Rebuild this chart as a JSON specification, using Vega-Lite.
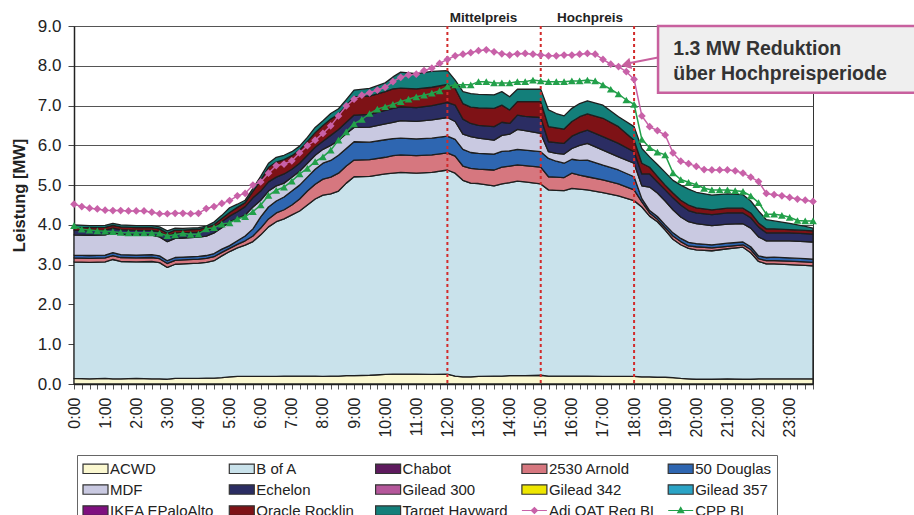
{
  "$schema": "https://vega.github.io/schema/vega-lite/v6.json",
  "width": 739,
  "height": 358,
  "autosize": {"type": "none"},
  "padding": {"left": 74, "top": 26, "right": 101, "bottom": 131},
  "background": "white",
  "config": {
    "font": "Liberation Sans",
    "view": {"stroke": "#333", "strokeWidth": 1},
    "axisX": {"labelAngle": -90, "labelAlign": "right", "labelBaseline": "middle", "labelFontSize": 16, "labelColor": "#222",
      "labelPadding": 8, "labelOverlap": false, "labelFlush": false, "tickSize": 5, "tickColor": "#555",
      "domainColor": "#222", "domainWidth": 1.5, "grid": false},
    "axisY": {"labelFontSize": 17, "labelColor": "#222", "labelPadding": 7, "labelOverlap": false,
      "tickSize": 6, "tickColor": "#444", "grid": true, "gridColor": "#555", "gridWidth": 1, "domainColor": "#222", "domainWidth": 1.5,
      "titleFontSize": 16.5, "titleFontWeight": "bold", "titleColor": "#222",
      "titleX": -55, "titleY": 169, "titleAngle": -90, "titleAlign": "center", "titleBaseline": "middle"}
  },
  "datasets": {
    "ranks": [
      {"series": "ACWD", "rank": 1}, {"series": "B of A", "rank": 2}, {"series": "2530 Arnold", "rank": 3},
      {"series": "50 Douglas", "rank": 4}, {"series": "MDF", "rank": 5}, {"series": "Echelon", "rank": 6},
      {"series": "Oracle Rocklin", "rank": 7}, {"series": "Target Hayward", "rank": 8}
    ],
    "legendEntries": [
      {"series": "ACWD"}, {"series": "B of A"}, {"series": "Chabot"}, {"series": "2530 Arnold"}, {"series": "50 Douglas"},
      {"series": "MDF"}, {"series": "Echelon"}, {"series": "Gilead 300"}, {"series": "Gilead 342"}, {"series": "Gilead 357"},
      {"series": "IKEA EPaloAlto"}, {"series": "Oracle Rocklin"}, {"series": "Target Hayward"}, {"series": "Adj OAT Reg BL"}, {"series": "CPP BL"}
    ],
    "areas": [
      {"t":0,"ACWD":0.14,"B of A":2.93,"2530 Arnold":0.10,"50 Douglas":0.07,"MDF":0.51,"Echelon":0.12,"Oracle Rocklin":0.07,"Target Hayward":0.06},
      {"t":0.5,"ACWD":0.13,"B of A":2.93,"2530 Arnold":0.10,"50 Douglas":0.07,"MDF":0.51,"Echelon":0.12,"Oracle Rocklin":0.07,"Target Hayward":0.05},
      {"t":1,"ACWD":0.14,"B of A":2.93,"2530 Arnold":0.10,"50 Douglas":0.07,"MDF":0.51,"Echelon":0.12,"Oracle Rocklin":0.07,"Target Hayward":0.05},
      {"t":1.25,"ACWD":0.13,"B of A":3.00,"2530 Arnold":0.10,"50 Douglas":0.07,"MDF":0.50,"Echelon":0.12,"Oracle Rocklin":0.07,"Target Hayward":0.05},
      {"t":1.5,"ACWD":0.13,"B of A":2.95,"2530 Arnold":0.10,"50 Douglas":0.07,"MDF":0.51,"Echelon":0.12,"Oracle Rocklin":0.07,"Target Hayward":0.05},
      {"t":2,"ACWD":0.14,"B of A":2.93,"2530 Arnold":0.10,"50 Douglas":0.07,"MDF":0.50,"Echelon":0.12,"Oracle Rocklin":0.07,"Target Hayward":0.05},
      {"t":2.5,"ACWD":0.13,"B of A":2.95,"2530 Arnold":0.10,"50 Douglas":0.07,"MDF":0.49,"Echelon":0.12,"Oracle Rocklin":0.07,"Target Hayward":0.05},
      {"t":2.75,"ACWD":0.13,"B of A":2.92,"2530 Arnold":0.10,"50 Douglas":0.07,"MDF":0.48,"Echelon":0.13,"Oracle Rocklin":0.07,"Target Hayward":0.05},
      {"t":3,"ACWD":0.12,"B of A":2.81,"2530 Arnold":0.10,"50 Douglas":0.07,"MDF":0.48,"Echelon":0.14,"Oracle Rocklin":0.07,"Target Hayward":0.06},
      {"t":3.25,"ACWD":0.14,"B of A":2.87,"2530 Arnold":0.10,"50 Douglas":0.07,"MDF":0.48,"Echelon":0.14,"Oracle Rocklin":0.07,"Target Hayward":0.05},
      {"t":3.5,"ACWD":0.14,"B of A":2.88,"2530 Arnold":0.10,"50 Douglas":0.07,"MDF":0.48,"Echelon":0.13,"Oracle Rocklin":0.07,"Target Hayward":0.04},
      {"t":4,"ACWD":0.14,"B of A":2.90,"2530 Arnold":0.10,"50 Douglas":0.07,"MDF":0.48,"Echelon":0.13,"Oracle Rocklin":0.07,"Target Hayward":0.04},
      {"t":4.25,"ACWD":0.15,"B of A":2.91,"2530 Arnold":0.10,"50 Douglas":0.07,"MDF":0.49,"Echelon":0.14,"Oracle Rocklin":0.07,"Target Hayward":0.04},
      {"t":4.5,"ACWD":0.15,"B of A":2.95,"2530 Arnold":0.10,"50 Douglas":0.08,"MDF":0.52,"Echelon":0.14,"Oracle Rocklin":0.07,"Target Hayward":0.06},
      {"t":4.75,"ACWD":0.16,"B of A":3.06,"2530 Arnold":0.09,"50 Douglas":0.08,"MDF":0.54,"Echelon":0.15,"Oracle Rocklin":0.08,"Target Hayward":0.08},
      {"t":5,"ACWD":0.18,"B of A":3.15,"2530 Arnold":0.08,"50 Douglas":0.07,"MDF":0.60,"Echelon":0.14,"Oracle Rocklin":0.09,"Target Hayward":0.12},
      {"t":5.25,"ACWD":0.19,"B of A":3.23,"2530 Arnold":0.09,"50 Douglas":0.09,"MDF":0.56,"Echelon":0.17,"Oracle Rocklin":0.11,"Target Hayward":0.08},
      {"t":5.5,"ACWD":0.19,"B of A":3.30,"2530 Arnold":0.11,"50 Douglas":0.12,"MDF":0.53,"Echelon":0.21,"Oracle Rocklin":0.10,"Target Hayward":0.06},
      {"t":5.75,"ACWD":0.19,"B of A":3.39,"2530 Arnold":0.14,"50 Douglas":0.18,"MDF":0.55,"Echelon":0.23,"Oracle Rocklin":0.16,"Target Hayward":0.08},
      {"t":6,"ACWD":0.19,"B of A":3.56,"2530 Arnold":0.17,"50 Douglas":0.28,"MDF":0.42,"Echelon":0.23,"Oracle Rocklin":0.27,"Target Hayward":0.10},
      {"t":6.25,"ACWD":0.19,"B of A":3.76,"2530 Arnold":0.20,"50 Douglas":0.30,"MDF":0.40,"Echelon":0.23,"Oracle Rocklin":0.37,"Target Hayward":0.10},
      {"t":6.5,"ACWD":0.19,"B of A":3.89,"2530 Arnold":0.22,"50 Douglas":0.30,"MDF":0.38,"Echelon":0.22,"Oracle Rocklin":0.38,"Target Hayward":0.12},
      {"t":6.75,"ACWD":0.20,"B of A":3.95,"2530 Arnold":0.23,"50 Douglas":0.32,"MDF":0.35,"Echelon":0.23,"Oracle Rocklin":0.36,"Target Hayward":0.11},
      {"t":7,"ACWD":0.20,"B of A":4.05,"2530 Arnold":0.25,"50 Douglas":0.35,"MDF":0.35,"Echelon":0.20,"Oracle Rocklin":0.34,"Target Hayward":0.10},
      {"t":7.25,"ACWD":0.20,"B of A":4.15,"2530 Arnold":0.30,"50 Douglas":0.35,"MDF":0.35,"Echelon":0.20,"Oracle Rocklin":0.33,"Target Hayward":0.10},
      {"t":7.5,"ACWD":0.20,"B of A":4.30,"2530 Arnold":0.35,"50 Douglas":0.35,"MDF":0.35,"Echelon":0.20,"Oracle Rocklin":0.35,"Target Hayward":0.10},
      {"t":7.75,"ACWD":0.20,"B of A":4.45,"2530 Arnold":0.37,"50 Douglas":0.38,"MDF":0.35,"Echelon":0.20,"Oracle Rocklin":0.37,"Target Hayward":0.13},
      {"t":8,"ACWD":0.19,"B of A":4.56,"2530 Arnold":0.40,"50 Douglas":0.40,"MDF":0.35,"Echelon":0.20,"Oracle Rocklin":0.40,"Target Hayward":0.12},
      {"t":8.25,"ACWD":0.20,"B of A":4.58,"2530 Arnold":0.42,"50 Douglas":0.42,"MDF":0.38,"Echelon":0.25,"Oracle Rocklin":0.41,"Target Hayward":0.14},
      {"t":8.5,"ACWD":0.20,"B of A":4.65,"2530 Arnold":0.45,"50 Douglas":0.45,"MDF":0.37,"Echelon":0.28,"Oracle Rocklin":0.38,"Target Hayward":0.14},
      {"t":8.75,"ACWD":0.21,"B of A":4.84,"2530 Arnold":0.43,"50 Douglas":0.44,"MDF":0.38,"Echelon":0.28,"Oracle Rocklin":0.42,"Target Hayward":0.15},
      {"t":9,"ACWD":0.21,"B of A":5.00,"2530 Arnold":0.42,"50 Douglas":0.46,"MDF":0.36,"Echelon":0.31,"Oracle Rocklin":0.46,"Target Hayward":0.17},
      {"t":9.5,"ACWD":0.22,"B of A":5.00,"2530 Arnold":0.42,"50 Douglas":0.44,"MDF":0.38,"Echelon":0.32,"Oracle Rocklin":0.46,"Target Hayward":0.19},
      {"t":10,"ACWD":0.24,"B of A":5.04,"2530 Arnold":0.42,"50 Douglas":0.44,"MDF":0.40,"Echelon":0.34,"Oracle Rocklin":0.47,"Target Hayward":0.22},
      {"t":10.25,"ACWD":0.25,"B of A":5.05,"2530 Arnold":0.44,"50 Douglas":0.43,"MDF":0.41,"Echelon":0.35,"Oracle Rocklin":0.49,"Target Hayward":0.30},
      {"t":10.5,"ACWD":0.25,"B of A":5.07,"2530 Arnold":0.44,"50 Douglas":0.42,"MDF":0.44,"Echelon":0.35,"Oracle Rocklin":0.47,"Target Hayward":0.40},
      {"t":11,"ACWD":0.25,"B of A":5.05,"2530 Arnold":0.44,"50 Douglas":0.42,"MDF":0.44,"Echelon":0.35,"Oracle Rocklin":0.47,"Target Hayward":0.38},
      {"t":11.5,"ACWD":0.24,"B of A":5.08,"2530 Arnold":0.44,"50 Douglas":0.42,"MDF":0.46,"Echelon":0.36,"Oracle Rocklin":0.46,"Target Hayward":0.40},
      {"t":12,"ACWD":0.25,"B of A":5.13,"2530 Arnold":0.43,"50 Douglas":0.42,"MDF":0.47,"Echelon":0.38,"Oracle Rocklin":0.45,"Target Hayward":0.35},
      {"t":12.25,"ACWD":0.20,"B of A":5.10,"2530 Arnold":0.43,"50 Douglas":0.42,"MDF":0.45,"Echelon":0.41,"Oracle Rocklin":0.42,"Target Hayward":0.21},
      {"t":12.5,"ACWD":0.18,"B of A":4.94,"2530 Arnold":0.36,"50 Douglas":0.42,"MDF":0.38,"Echelon":0.38,"Oracle Rocklin":0.39,"Target Hayward":0.30},
      {"t":12.75,"ACWD":0.18,"B of A":4.87,"2530 Arnold":0.37,"50 Douglas":0.40,"MDF":0.40,"Echelon":0.33,"Oracle Rocklin":0.41,"Target Hayward":0.34},
      {"t":13,"ACWD":0.19,"B of A":4.85,"2530 Arnold":0.36,"50 Douglas":0.40,"MDF":0.38,"Echelon":0.32,"Oracle Rocklin":0.44,"Target Hayward":0.34},
      {"t":13.5,"ACWD":0.20,"B of A":4.78,"2530 Arnold":0.40,"50 Douglas":0.40,"MDF":0.35,"Echelon":0.34,"Oracle Rocklin":0.46,"Target Hayward":0.34},
      {"t":13.75,"ACWD":0.20,"B of A":4.83,"2530 Arnold":0.42,"50 Douglas":0.40,"MDF":0.40,"Echelon":0.33,"Oracle Rocklin":0.43,"Target Hayward":0.34},
      {"t":14,"ACWD":0.21,"B of A":4.85,"2530 Arnold":0.42,"50 Douglas":0.38,"MDF":0.42,"Echelon":0.27,"Oracle Rocklin":0.34,"Target Hayward":0.33},
      {"t":14.25,"ACWD":0.21,"B of A":4.89,"2530 Arnold":0.41,"50 Douglas":0.39,"MDF":0.50,"Echelon":0.36,"Oracle Rocklin":0.34,"Target Hayward":0.31},
      {"t":14.5,"ACWD":0.21,"B of A":4.87,"2530 Arnold":0.41,"50 Douglas":0.39,"MDF":0.49,"Echelon":0.36,"Oracle Rocklin":0.37,"Target Hayward":0.31},
      {"t":15,"ACWD":0.22,"B of A":4.81,"2530 Arnold":0.42,"50 Douglas":0.39,"MDF":0.46,"Echelon":0.40,"Oracle Rocklin":0.40,"Target Hayward":0.31},
      {"t":15.25,"ACWD":0.20,"B of A":4.68,"2530 Arnold":0.33,"50 Douglas":0.46,"MDF":0.17,"Echelon":0.25,"Oracle Rocklin":0.38,"Target Hayward":0.42},
      {"t":15.5,"ACWD":0.20,"B of A":4.67,"2530 Arnold":0.33,"50 Douglas":0.40,"MDF":0.20,"Echelon":0.27,"Oracle Rocklin":0.37,"Target Hayward":0.36},
      {"t":15.75,"ACWD":0.20,"B of A":4.66,"2530 Arnold":0.33,"50 Douglas":0.36,"MDF":0.23,"Echelon":0.27,"Oracle Rocklin":0.36,"Target Hayward":0.33},
      {"t":16,"ACWD":0.20,"B of A":4.72,"2530 Arnold":0.38,"50 Douglas":0.35,"MDF":0.27,"Echelon":0.31,"Oracle Rocklin":0.37,"Target Hayward":0.33},
      {"t":16.25,"ACWD":0.20,"B of A":4.70,"2530 Arnold":0.35,"50 Douglas":0.37,"MDF":0.38,"Echelon":0.32,"Oracle Rocklin":0.40,"Target Hayward":0.33},
      {"t":16.5,"ACWD":0.20,"B of A":4.68,"2530 Arnold":0.33,"50 Douglas":0.42,"MDF":0.42,"Echelon":0.33,"Oracle Rocklin":0.41,"Target Hayward":0.33},
      {"t":17,"ACWD":0.19,"B of A":4.62,"2530 Arnold":0.32,"50 Douglas":0.37,"MDF":0.38,"Echelon":0.34,"Oracle Rocklin":0.46,"Target Hayward":0.33},
      {"t":17.5,"ACWD":0.19,"B of A":4.54,"2530 Arnold":0.30,"50 Douglas":0.35,"MDF":0.33,"Echelon":0.34,"Oracle Rocklin":0.42,"Target Hayward":0.25},
      {"t":18,"ACWD":0.19,"B of A":4.42,"2530 Arnold":0.27,"50 Douglas":0.33,"MDF":0.34,"Echelon":0.29,"Oracle Rocklin":0.29,"Target Hayward":0.34},
      {"t":18.25,"ACWD":0.18,"B of A":4.27,"2530 Arnold":0.13,"50 Douglas":0.08,"MDF":0.32,"Echelon":0.30,"Oracle Rocklin":0.27,"Target Hayward":0.37},
      {"t":18.5,"ACWD":0.18,"B of A":4.04,"2530 Arnold":0.08,"50 Douglas":0.06,"MDF":0.59,"Echelon":0.33,"Oracle Rocklin":0.17,"Target Hayward":0.26},
      {"t":18.75,"ACWD":0.17,"B of A":3.91,"2530 Arnold":0.06,"50 Douglas":0.07,"MDF":0.59,"Echelon":0.28,"Oracle Rocklin":0.14,"Target Hayward":0.30},
      {"t":19,"ACWD":0.17,"B of A":3.70,"2530 Arnold":0.06,"50 Douglas":0.07,"MDF":0.60,"Echelon":0.28,"Oracle Rocklin":0.12,"Target Hayward":0.32},
      {"t":19.25,"ACWD":0.16,"B of A":3.48,"2530 Arnold":0.08,"50 Douglas":0.08,"MDF":0.58,"Echelon":0.30,"Oracle Rocklin":0.12,"Target Hayward":0.32},
      {"t":19.5,"ACWD":0.14,"B of A":3.36,"2530 Arnold":0.08,"50 Douglas":0.08,"MDF":0.54,"Echelon":0.30,"Oracle Rocklin":0.12,"Target Hayward":0.38},
      {"t":19.75,"ACWD":0.13,"B of A":3.28,"2530 Arnold":0.06,"50 Douglas":0.09,"MDF":0.52,"Echelon":0.28,"Oracle Rocklin":0.14,"Target Hayward":0.40},
      {"t":20,"ACWD":0.12,"B of A":3.25,"2530 Arnold":0.08,"50 Douglas":0.08,"MDF":0.50,"Echelon":0.27,"Oracle Rocklin":0.13,"Target Hayward":0.39},
      {"t":20.5,"ACWD":0.12,"B of A":3.23,"2530 Arnold":0.07,"50 Douglas":0.08,"MDF":0.48,"Echelon":0.28,"Oracle Rocklin":0.12,"Target Hayward":0.37},
      {"t":21,"ACWD":0.13,"B of A":3.27,"2530 Arnold":0.06,"50 Douglas":0.08,"MDF":0.48,"Echelon":0.28,"Oracle Rocklin":0.12,"Target Hayward":0.36},
      {"t":21.5,"ACWD":0.12,"B of A":3.32,"2530 Arnold":0.06,"50 Douglas":0.07,"MDF":0.46,"Echelon":0.27,"Oracle Rocklin":0.12,"Target Hayward":0.34},
      {"t":21.75,"ACWD":0.12,"B of A":3.18,"2530 Arnold":0.08,"50 Douglas":0.07,"MDF":0.47,"Echelon":0.26,"Oracle Rocklin":0.12,"Target Hayward":0.30},
      {"t":22,"ACWD":0.13,"B of A":2.95,"2530 Arnold":0.07,"50 Douglas":0.07,"MDF":0.48,"Echelon":0.25,"Oracle Rocklin":0.10,"Target Hayward":0.30},
      {"t":22.25,"ACWD":0.13,"B of A":2.89,"2530 Arnold":0.08,"50 Douglas":0.08,"MDF":0.42,"Echelon":0.20,"Oracle Rocklin":0.10,"Target Hayward":0.23},
      {"t":22.5,"ACWD":0.13,"B of A":2.89,"2530 Arnold":0.08,"50 Douglas":0.09,"MDF":0.41,"Echelon":0.20,"Oracle Rocklin":0.10,"Target Hayward":0.20},
      {"t":23,"ACWD":0.13,"B of A":2.87,"2530 Arnold":0.09,"50 Douglas":0.08,"MDF":0.43,"Echelon":0.20,"Oracle Rocklin":0.08,"Target Hayward":0.16},
      {"t":23.5,"ACWD":0.13,"B of A":2.85,"2530 Arnold":0.09,"50 Douglas":0.08,"MDF":0.43,"Echelon":0.20,"Oracle Rocklin":0.08,"Target Hayward":0.10},
      {"t":23.75,"ACWD":0.13,"B of A":2.84,"2530 Arnold":0.09,"50 Douglas":0.08,"MDF":0.43,"Echelon":0.20,"Oracle Rocklin":0.08,"Target Hayward":0.07}
    ],
    "lines": [
      {"t":0,"Adj OAT Reg BL":4.52,"CPP BL":3.98},{"t":0.25,"Adj OAT Reg BL":4.46,"CPP BL":3.89},{"t":0.5,"Adj OAT Reg BL":4.42,"CPP BL":3.87},{"t":0.75,"Adj OAT Reg BL":4.40,"CPP BL":3.85},
      {"t":1,"Adj OAT Reg BL":4.37,"CPP BL":3.84},{"t":1.25,"Adj OAT Reg BL":4.36,"CPP BL":3.83},{"t":1.5,"Adj OAT Reg BL":4.36,"CPP BL":3.81},{"t":1.75,"Adj OAT Reg BL":4.35,"CPP BL":3.80},
      {"t":2,"Adj OAT Reg BL":4.35,"CPP BL":3.80},{"t":2.25,"Adj OAT Reg BL":4.35,"CPP BL":3.80},{"t":2.5,"Adj OAT Reg BL":4.32,"CPP BL":3.80},{"t":2.75,"Adj OAT Reg BL":4.28,"CPP BL":3.79},
      {"t":3,"Adj OAT Reg BL":4.28,"CPP BL":3.73},{"t":3.25,"Adj OAT Reg BL":4.29,"CPP BL":3.75},{"t":3.5,"Adj OAT Reg BL":4.29,"CPP BL":3.79},{"t":3.75,"Adj OAT Reg BL":4.28,"CPP BL":3.76},
      {"t":4,"Adj OAT Reg BL":4.29,"CPP BL":3.77},{"t":4.25,"Adj OAT Reg BL":4.41,"CPP BL":3.90},{"t":4.5,"Adj OAT Reg BL":4.46,"CPP BL":3.93},{"t":4.75,"Adj OAT Reg BL":4.54,"CPP BL":4.02},
      {"t":5,"Adj OAT Reg BL":4.61,"CPP BL":4.05},{"t":5.25,"Adj OAT Reg BL":4.73,"CPP BL":4.15},{"t":5.5,"Adj OAT Reg BL":4.79,"CPP BL":4.21},{"t":5.75,"Adj OAT Reg BL":5.00,"CPP BL":4.33},
      {"t":6,"Adj OAT Reg BL":5.08,"CPP BL":4.50},{"t":6.25,"Adj OAT Reg BL":5.30,"CPP BL":4.74},{"t":6.5,"Adj OAT Reg BL":5.49,"CPP BL":4.87},{"t":6.75,"Adj OAT Reg BL":5.53,"CPP BL":4.95},
      {"t":7,"Adj OAT Reg BL":5.61,"CPP BL":5.10},{"t":7.25,"Adj OAT Reg BL":5.81,"CPP BL":5.28},{"t":7.5,"Adj OAT Reg BL":5.99,"CPP BL":5.42},{"t":7.75,"Adj OAT Reg BL":6.13,"CPP BL":5.59},
      {"t":8,"Adj OAT Reg BL":6.30,"CPP BL":5.71},{"t":8.25,"Adj OAT Reg BL":6.49,"CPP BL":5.88},{"t":8.5,"Adj OAT Reg BL":6.74,"CPP BL":6.13},{"t":8.75,"Adj OAT Reg BL":6.99,"CPP BL":6.34},
      {"t":9,"Adj OAT Reg BL":7.16,"CPP BL":6.54},{"t":9.25,"Adj OAT Reg BL":7.26,"CPP BL":6.65},{"t":9.5,"Adj OAT Reg BL":7.32,"CPP BL":6.80},{"t":9.75,"Adj OAT Reg BL":7.39,"CPP BL":6.91},
      {"t":10,"Adj OAT Reg BL":7.46,"CPP BL":6.97},{"t":10.25,"Adj OAT Reg BL":7.60,"CPP BL":7.03},{"t":10.5,"Adj OAT Reg BL":7.71,"CPP BL":7.10},{"t":10.75,"Adj OAT Reg BL":7.77,"CPP BL":7.16},
      {"t":11,"Adj OAT Reg BL":7.79,"CPP BL":7.22},{"t":11.25,"Adj OAT Reg BL":7.88,"CPP BL":7.26},{"t":11.5,"Adj OAT Reg BL":7.94,"CPP BL":7.31},{"t":11.75,"Adj OAT Reg BL":8.06,"CPP BL":7.37},
      {"t":12,"Adj OAT Reg BL":8.16,"CPP BL":7.48},{"t":12.25,"Adj OAT Reg BL":8.25,"CPP BL":7.52},{"t":12.5,"Adj OAT Reg BL":8.29,"CPP BL":7.52},{"t":12.75,"Adj OAT Reg BL":8.33,"CPP BL":7.52},
      {"t":13,"Adj OAT Reg BL":8.38,"CPP BL":7.60},{"t":13.25,"Adj OAT Reg BL":8.40,"CPP BL":7.60},{"t":13.5,"Adj OAT Reg BL":8.35,"CPP BL":7.57},{"t":13.75,"Adj OAT Reg BL":8.30,"CPP BL":7.57},
      {"t":14,"Adj OAT Reg BL":8.27,"CPP BL":7.57},{"t":14.25,"Adj OAT Reg BL":8.30,"CPP BL":7.60},{"t":14.5,"Adj OAT Reg BL":8.31,"CPP BL":7.60},{"t":14.75,"Adj OAT Reg BL":8.29,"CPP BL":7.64},
      {"t":15,"Adj OAT Reg BL":8.27,"CPP BL":7.62},{"t":15.25,"Adj OAT Reg BL":8.25,"CPP BL":7.60},{"t":15.5,"Adj OAT Reg BL":8.25,"CPP BL":7.60},{"t":15.75,"Adj OAT Reg BL":8.27,"CPP BL":7.60},
      {"t":16,"Adj OAT Reg BL":8.27,"CPP BL":7.62},{"t":16.25,"Adj OAT Reg BL":8.29,"CPP BL":7.62},{"t":16.5,"Adj OAT Reg BL":8.31,"CPP BL":7.64},{"t":16.75,"Adj OAT Reg BL":8.29,"CPP BL":7.62},
      {"t":17,"Adj OAT Reg BL":8.16,"CPP BL":7.52},{"t":17.25,"Adj OAT Reg BL":8.04,"CPP BL":7.41},{"t":17.5,"Adj OAT Reg BL":7.98,"CPP BL":7.29},{"t":17.75,"Adj OAT Reg BL":7.85,"CPP BL":7.14},
      {"t":18,"Adj OAT Reg BL":7.66,"CPP BL":7.03},{"t":18.25,"Adj OAT Reg BL":6.74,"CPP BL":6.15},{"t":18.5,"Adj OAT Reg BL":6.47,"CPP BL":5.94},{"t":18.75,"Adj OAT Reg BL":6.37,"CPP BL":5.83},
      {"t":19,"Adj OAT Reg BL":6.26,"CPP BL":5.76},{"t":19.25,"Adj OAT Reg BL":5.81,"CPP BL":5.31},{"t":19.5,"Adj OAT Reg BL":5.60,"CPP BL":5.14},{"t":19.75,"Adj OAT Reg BL":5.54,"CPP BL":5.07},
      {"t":20,"Adj OAT Reg BL":5.47,"CPP BL":5.01},{"t":20.25,"Adj OAT Reg BL":5.39,"CPP BL":4.92},{"t":20.5,"Adj OAT Reg BL":5.38,"CPP BL":4.88},{"t":20.75,"Adj OAT Reg BL":5.38,"CPP BL":4.88},
      {"t":21,"Adj OAT Reg BL":5.38,"CPP BL":4.88},{"t":21.25,"Adj OAT Reg BL":5.36,"CPP BL":4.86},{"t":21.5,"Adj OAT Reg BL":5.30,"CPP BL":4.84},{"t":21.75,"Adj OAT Reg BL":5.20,"CPP BL":4.73},
      {"t":22,"Adj OAT Reg BL":5.09,"CPP BL":4.56},{"t":22.25,"Adj OAT Reg BL":4.79,"CPP BL":4.27},{"t":22.5,"Adj OAT Reg BL":4.76,"CPP BL":4.27},{"t":22.75,"Adj OAT Reg BL":4.73,"CPP BL":4.24},
      {"t":23,"Adj OAT Reg BL":4.69,"CPP BL":4.19},{"t":23.25,"Adj OAT Reg BL":4.65,"CPP BL":4.11},{"t":23.5,"Adj OAT Reg BL":4.62,"CPP BL":4.10},{"t":23.75,"Adj OAT Reg BL":4.59,"CPP BL":4.10}
    ]
  },
  "layer": [
    {
      "data": {"name": "areas"},
      "transform": [
        {"fold": ["ACWD", "B of A", "2530 Arnold", "50 Douglas", "MDF", "Echelon", "Oracle Rocklin", "Target Hayward"], "as": ["series", "v"]},
        {"lookup": "series", "from": {"data": {"name": "ranks"}, "key": "series", "fields": ["rank"]}}
      ],
      "mark": {"type": "area", "stroke": "#1e1e1e", "strokeWidth": 1.3, "strokeJoin": "round", "opacity": 1},
      "encoding": {
        "x": {"field": "t", "type": "quantitative", "scale": {"domain": [0, 23.75], "nice": false, "zero": false},
          "axis": {"values": [0,0.25,0.5,0.75,1,1.25,1.5,1.75,2,2.25,2.5,2.75,3,3.25,3.5,3.75,4,4.25,4.5,4.75,5,5.25,5.5,5.75,6,6.25,6.5,6.75,7,7.25,7.5,7.75,8,8.25,8.5,8.75,9,9.25,9.5,9.75,10,10.25,10.5,10.75,11,11.25,11.5,11.75,12,12.25,12.5,12.75,13,13.25,13.5,13.75,14,14.25,14.5,14.75,15,15.25,15.5,15.75,16,16.25,16.5,16.75,17,17.25,17.5,17.75,18,18.25,18.5,18.75,19,19.25,19.5,19.75,20,20.25,20.5,20.75,21,21.25,21.5,21.75,22,22.25,22.5,22.75,23,23.25,23.5,23.75],
            "labelExpr": "datum.value % 1 === 0 ? datum.value + ':00' : ''", "title": null}},
        "y": {"field": "v", "type": "quantitative", "stack": "zero", "scale": {"domain": [0, 9], "nice": false},
          "axis": {"values": [0,1,2,3,4,5,6,7,8,9], "format": ".1f", "title": "Leistung [MW]"}},
        "color": {"field": "series", "type": "nominal",
          "scale": {"domain": ["ACWD","B of A","Chabot","2530 Arnold","50 Douglas","MDF","Echelon","Gilead 300","Gilead 342","Gilead 357","IKEA EPaloAlto","Oracle Rocklin","Target Hayward","Adj OAT Reg BL","CPP BL"],
                    "range": ["#fbf8d0","#c9e2eb","#5e1a5e","#d6777f","#2e66b1","#c9c9e1","#2b2d63","#b5579b","#eee600","#2ba4c6","#7f0f7f","#7e1216","#137f7a","#c861a8","#22a04a"]},
          "legend": {"title": null, "orient": "none", "legendX": 3, "legendY": 429, "direction": "horizontal", "columns": 5, "gridAlign": "all",
            "columnPadding": 6.3, "rowPadding": 4, "symbolSize": 225, "symbolStrokeWidth": 1.2, "symbolOpacity": 1, "labelFontSize": 15, "labelFont": "Liberation Sans",
            "labelColor": "#222", "labelOffset": 11, "labelLimit": 200, "padding": 5, "strokeColor": "#666", "fillColor": "white"}},
        "order": {"field": "rank", "type": "quantitative"}
      }
    },
    {
      "data": {"name": "legendEntries"},
      "mark": {"type": "point", "filled": true, "opacity": 0},
      "encoding": {
        "color": {"field": "series", "type": "nominal",
          "scale": {"domain": ["ACWD","B of A","Chabot","2530 Arnold","50 Douglas","MDF","Echelon","Gilead 300","Gilead 342","Gilead 357","IKEA EPaloAlto","Oracle Rocklin","Target Hayward","Adj OAT Reg BL","CPP BL"],
                    "range": ["#fbf8d0","#c9e2eb","#5e1a5e","#d6777f","#2e66b1","#c9c9e1","#2b2d63","#b5579b","#eee600","#2ba4c6","#7f0f7f","#7e1216","#137f7a","#c861a8","#22a04a"]}},
        "shape": {"field": "series", "type": "nominal",
          "scale": {"domain": ["ACWD","B of A","Chabot","2530 Arnold","50 Douglas","MDF","Echelon","Gilead 300","Gilead 342","Gilead 357","IKEA EPaloAlto","Oracle Rocklin","Target Hayward","Adj OAT Reg BL","CPP BL"],
                    "range": ["M-1,-0.63H2.333V0.63H-1Z","M-1,-0.63H2.333V0.63H-1Z","M-1,-0.63H2.333V0.63H-1Z","M-1,-0.63H2.333V0.63H-1Z","M-1,-0.63H2.333V0.63H-1Z","M-1,-0.63H2.333V0.63H-1Z","M-1,-0.63H2.333V0.63H-1Z","M-1,-0.63H2.333V0.63H-1Z","M-1,-0.63H2.333V0.63H-1Z","M-1,-0.63H2.333V0.63H-1Z","M-1,-0.63H2.333V0.63H-1Z","M-1,-0.63H2.333V0.63H-1Z","M-1,-0.63H2.333V0.63H-1Z","M-1,0H2.333M0.267,0L0.667,-0.4L1.067,0L0.667,0.4Z","M-1,0H2.333M0.267,0.3L0.667,-0.4L1.067,0.3Z"]}},
        "stroke": {"field": "series", "type": "nominal",
          "scale": {"domain": ["ACWD","B of A","Chabot","2530 Arnold","50 Douglas","MDF","Echelon","Gilead 300","Gilead 342","Gilead 357","IKEA EPaloAlto","Oracle Rocklin","Target Hayward","Adj OAT Reg BL","CPP BL"],
                    "range": ["#333","#333","#333","#333","#333","#333","#333","#333","#333","#333","#333","#333","#333","#c861a8","#22a04a"]}}
      }
    },
    {
      "data": {"values": [{"t": 12}, {"t": 15}, {"t": 18}]},
      "mark": {"type": "rule", "color": "#d22b2b", "strokeWidth": 2, "strokeDash": [3, 3]},
      "encoding": {"x": {"field": "t", "type": "quantitative", "scale": {"domain": [0, 23.75], "nice": false, "zero": false},
        "axis": {"values": [0,0.25,0.5,0.75,1,1.25,1.5,1.75,2,2.25,2.5,2.75,3,3.25,3.5,3.75,4,4.25,4.5,4.75,5,5.25,5.5,5.75,6,6.25,6.5,6.75,7,7.25,7.5,7.75,8,8.25,8.5,8.75,9,9.25,9.5,9.75,10,10.25,10.5,10.75,11,11.25,11.5,11.75,12,12.25,12.5,12.75,13,13.25,13.5,13.75,14,14.25,14.5,14.75,15,15.25,15.5,15.75,16,16.25,16.5,16.75,17,17.25,17.5,17.75,18,18.25,18.5,18.75,19,19.25,19.5,19.75,20,20.25,20.5,20.75,21,21.25,21.5,21.75,22,22.25,22.5,22.75,23,23.25,23.5,23.75],
            "labelExpr": "datum.value % 1 === 0 ? datum.value + ':00' : ''", "title": null}}}
    },
    {
      "data": {"name": "lines"},
      "transform": [{"fold": ["Adj OAT Reg BL"], "as": ["series", "v"]}],
      "mark": {"type": "line", "strokeWidth": 1.5, "color": "#c861a8", "point": {"shape": "diamond", "size": 60, "filled": true, "color": "#c861a8"}},
      "encoding": {
        "x": {"field": "t", "type": "quantitative", "scale": {"domain": [0, 23.75], "nice": false, "zero": false},
          "axis": {"values": [0,0.25,0.5,0.75,1,1.25,1.5,1.75,2,2.25,2.5,2.75,3,3.25,3.5,3.75,4,4.25,4.5,4.75,5,5.25,5.5,5.75,6,6.25,6.5,6.75,7,7.25,7.5,7.75,8,8.25,8.5,8.75,9,9.25,9.5,9.75,10,10.25,10.5,10.75,11,11.25,11.5,11.75,12,12.25,12.5,12.75,13,13.25,13.5,13.75,14,14.25,14.5,14.75,15,15.25,15.5,15.75,16,16.25,16.5,16.75,17,17.25,17.5,17.75,18,18.25,18.5,18.75,19,19.25,19.5,19.75,20,20.25,20.5,20.75,21,21.25,21.5,21.75,22,22.25,22.5,22.75,23,23.25,23.5,23.75],
            "labelExpr": "datum.value % 1 === 0 ? datum.value + ':00' : ''", "title": null}},
        "y": {"field": "v", "type": "quantitative", "scale": {"domain": [0, 9], "nice": false},
          "axis": {"values": [0,1,2,3,4,5,6,7,8,9], "format": ".1f", "title": "Leistung [MW]"}}
      }
    },
    {
      "data": {"name": "lines"},
      "transform": [{"fold": ["CPP BL"], "as": ["series", "v"]}],
      "mark": {"type": "line", "strokeWidth": 1.5, "color": "#22a04a", "point": {"shape": "triangle-up", "size": 60, "filled": true, "color": "#22a04a"}},
      "encoding": {
        "x": {"field": "t", "type": "quantitative", "scale": {"domain": [0, 23.75], "nice": false, "zero": false},
          "axis": {"values": [0,0.25,0.5,0.75,1,1.25,1.5,1.75,2,2.25,2.5,2.75,3,3.25,3.5,3.75,4,4.25,4.5,4.75,5,5.25,5.5,5.75,6,6.25,6.5,6.75,7,7.25,7.5,7.75,8,8.25,8.5,8.75,9,9.25,9.5,9.75,10,10.25,10.5,10.75,11,11.25,11.5,11.75,12,12.25,12.5,12.75,13,13.25,13.5,13.75,14,14.25,14.5,14.75,15,15.25,15.5,15.75,16,16.25,16.5,16.75,17,17.25,17.5,17.75,18,18.25,18.5,18.75,19,19.25,19.5,19.75,20,20.25,20.5,20.75,21,21.25,21.5,21.75,22,22.25,22.5,22.75,23,23.25,23.5,23.75],
            "labelExpr": "datum.value % 1 === 0 ? datum.value + ':00' : ''", "title": null}},
        "y": {"field": "v", "type": "quantitative", "scale": {"domain": [0, 9], "nice": false},
          "axis": {"values": [0,1,2,3,4,5,6,7,8,9], "format": ".1f", "title": "Leistung [MW]"}}
      }
    },
    {
      "data": {"values": [{"t": 13.16, "v": 9.1, "label": "Mittelpreis"}, {"t": 16.58, "v": 9.1, "label": "Hochpreis"}]},
      "mark": {"type": "text", "fontWeight": "bold", "fontSize": 13.5, "color": "#222", "align": "center", "baseline": "alphabetic"},
      "encoding": {
        "x": {"field": "t", "type": "quantitative", "scale": {"domain": [0, 23.75], "nice": false, "zero": false},
          "axis": {"values": [0,0.25,0.5,0.75,1,1.25,1.5,1.75,2,2.25,2.5,2.75,3,3.25,3.5,3.75,4,4.25,4.5,4.75,5,5.25,5.5,5.75,6,6.25,6.5,6.75,7,7.25,7.5,7.75,8,8.25,8.5,8.75,9,9.25,9.5,9.75,10,10.25,10.5,10.75,11,11.25,11.5,11.75,12,12.25,12.5,12.75,13,13.25,13.5,13.75,14,14.25,14.5,14.75,15,15.25,15.5,15.75,16,16.25,16.5,16.75,17,17.25,17.5,17.75,18,18.25,18.5,18.75,19,19.25,19.5,19.75,20,20.25,20.5,20.75,21,21.25,21.5,21.75,22,22.25,22.5,22.75,23,23.25,23.5,23.75],
            "labelExpr": "datum.value % 1 === 0 ? datum.value + ':00' : ''", "title": null}},
        "y": {"field": "v", "type": "quantitative", "scale": {"domain": [0, 9], "nice": false},
          "axis": {"values": [0,1,2,3,4,5,6,7,8,9], "format": ".1f", "title": "Leistung [MW]"}},
        "text": {"field": "label"}
      }
    },
    {
      "data": {"values": [{"t": 18.77, "t2": 27.5, "v": 9.0, "v2": 7.325}]},
      "mark": {"type": "rect", "fill": "#efefef", "stroke": "#c8609e", "strokeWidth": 2.5},
      "encoding": {
        "x": {"field": "t", "type": "quantitative", "scale": {"domain": [0, 23.75], "nice": false, "zero": false},
          "axis": {"values": [0,0.25,0.5,0.75,1,1.25,1.5,1.75,2,2.25,2.5,2.75,3,3.25,3.5,3.75,4,4.25,4.5,4.75,5,5.25,5.5,5.75,6,6.25,6.5,6.75,7,7.25,7.5,7.75,8,8.25,8.5,8.75,9,9.25,9.5,9.75,10,10.25,10.5,10.75,11,11.25,11.5,11.75,12,12.25,12.5,12.75,13,13.25,13.5,13.75,14,14.25,14.5,14.75,15,15.25,15.5,15.75,16,16.25,16.5,16.75,17,17.25,17.5,17.75,18,18.25,18.5,18.75,19,19.25,19.5,19.75,20,20.25,20.5,20.75,21,21.25,21.5,21.75,22,22.25,22.5,22.75,23,23.25,23.5,23.75],
            "labelExpr": "datum.value % 1 === 0 ? datum.value + ':00' : ''", "title": null}},
        "x2": {"field": "t2"},
        "y": {"field": "v", "type": "quantitative", "scale": {"domain": [0, 9], "nice": false},
          "axis": {"values": [0,1,2,3,4,5,6,7,8,9], "format": ".1f", "title": "Leistung [MW]"}},
        "y2": {"field": "v2"}
      }
    },
    {
      "data": {"values": [{"t": 18.77, "t2": 17.87, "v": 8.21, "v2": 8.07}]},
      "mark": {"type": "rule", "color": "#c8609e", "strokeWidth": 2},
      "encoding": {
        "x": {"field": "t", "type": "quantitative", "scale": {"domain": [0, 23.75], "nice": false, "zero": false},
          "axis": {"values": [0,0.25,0.5,0.75,1,1.25,1.5,1.75,2,2.25,2.5,2.75,3,3.25,3.5,3.75,4,4.25,4.5,4.75,5,5.25,5.5,5.75,6,6.25,6.5,6.75,7,7.25,7.5,7.75,8,8.25,8.5,8.75,9,9.25,9.5,9.75,10,10.25,10.5,10.75,11,11.25,11.5,11.75,12,12.25,12.5,12.75,13,13.25,13.5,13.75,14,14.25,14.5,14.75,15,15.25,15.5,15.75,16,16.25,16.5,16.75,17,17.25,17.5,17.75,18,18.25,18.5,18.75,19,19.25,19.5,19.75,20,20.25,20.5,20.75,21,21.25,21.5,21.75,22,22.25,22.5,22.75,23,23.25,23.5,23.75],
            "labelExpr": "datum.value % 1 === 0 ? datum.value + ':00' : ''", "title": null}},
        "x2": {"field": "t2"},
        "y": {"field": "v", "type": "quantitative", "scale": {"domain": [0, 9], "nice": false},
          "axis": {"values": [0,1,2,3,4,5,6,7,8,9], "format": ".1f", "title": "Leistung [MW]"}},
        "y2": {"field": "v2"}
      }
    },
    {
      "data": {"values": [{"t": 17.74, "v": 8.03}]},
      "mark": {"type": "point", "shape": "triangle-left", "size": 130, "filled": true, "color": "#c8609e", "opacity": 1, "angle": -14},
      "encoding": {
        "x": {"field": "t", "type": "quantitative", "scale": {"domain": [0, 23.75], "nice": false, "zero": false},
          "axis": {"values": [0,0.25,0.5,0.75,1,1.25,1.5,1.75,2,2.25,2.5,2.75,3,3.25,3.5,3.75,4,4.25,4.5,4.75,5,5.25,5.5,5.75,6,6.25,6.5,6.75,7,7.25,7.5,7.75,8,8.25,8.5,8.75,9,9.25,9.5,9.75,10,10.25,10.5,10.75,11,11.25,11.5,11.75,12,12.25,12.5,12.75,13,13.25,13.5,13.75,14,14.25,14.5,14.75,15,15.25,15.5,15.75,16,16.25,16.5,16.75,17,17.25,17.5,17.75,18,18.25,18.5,18.75,19,19.25,19.5,19.75,20,20.25,20.5,20.75,21,21.25,21.5,21.75,22,22.25,22.5,22.75,23,23.25,23.5,23.75],
            "labelExpr": "datum.value % 1 === 0 ? datum.value + ':00' : ''", "title": null}},
        "y": {"field": "v", "type": "quantitative", "scale": {"domain": [0, 9], "nice": false},
          "axis": {"values": [0,1,2,3,4,5,6,7,8,9], "format": ".1f", "title": "Leistung [MW]"}}
      }
    },
    {
      "data": {"values": [{"t": 19.26, "v": 8.27, "label": "1.3 MW Reduktion"}, {"t": 19.26, "v": 7.64, "label": "über Hochpreisperiode"}]},
      "mark": {"type": "text", "fontWeight": "bold", "fontSize": 19.5, "color": "#333", "align": "left", "baseline": "alphabetic"},
      "encoding": {
        "x": {"field": "t", "type": "quantitative", "scale": {"domain": [0, 23.75], "nice": false, "zero": false},
          "axis": {"values": [0,0.25,0.5,0.75,1,1.25,1.5,1.75,2,2.25,2.5,2.75,3,3.25,3.5,3.75,4,4.25,4.5,4.75,5,5.25,5.5,5.75,6,6.25,6.5,6.75,7,7.25,7.5,7.75,8,8.25,8.5,8.75,9,9.25,9.5,9.75,10,10.25,10.5,10.75,11,11.25,11.5,11.75,12,12.25,12.5,12.75,13,13.25,13.5,13.75,14,14.25,14.5,14.75,15,15.25,15.5,15.75,16,16.25,16.5,16.75,17,17.25,17.5,17.75,18,18.25,18.5,18.75,19,19.25,19.5,19.75,20,20.25,20.5,20.75,21,21.25,21.5,21.75,22,22.25,22.5,22.75,23,23.25,23.5,23.75],
            "labelExpr": "datum.value % 1 === 0 ? datum.value + ':00' : ''", "title": null}},
        "y": {"field": "v", "type": "quantitative", "scale": {"domain": [0, 9], "nice": false},
          "axis": {"values": [0,1,2,3,4,5,6,7,8,9], "format": ".1f", "title": "Leistung [MW]"}},
        "text": {"field": "label"}
      }
    }
  ]
}
